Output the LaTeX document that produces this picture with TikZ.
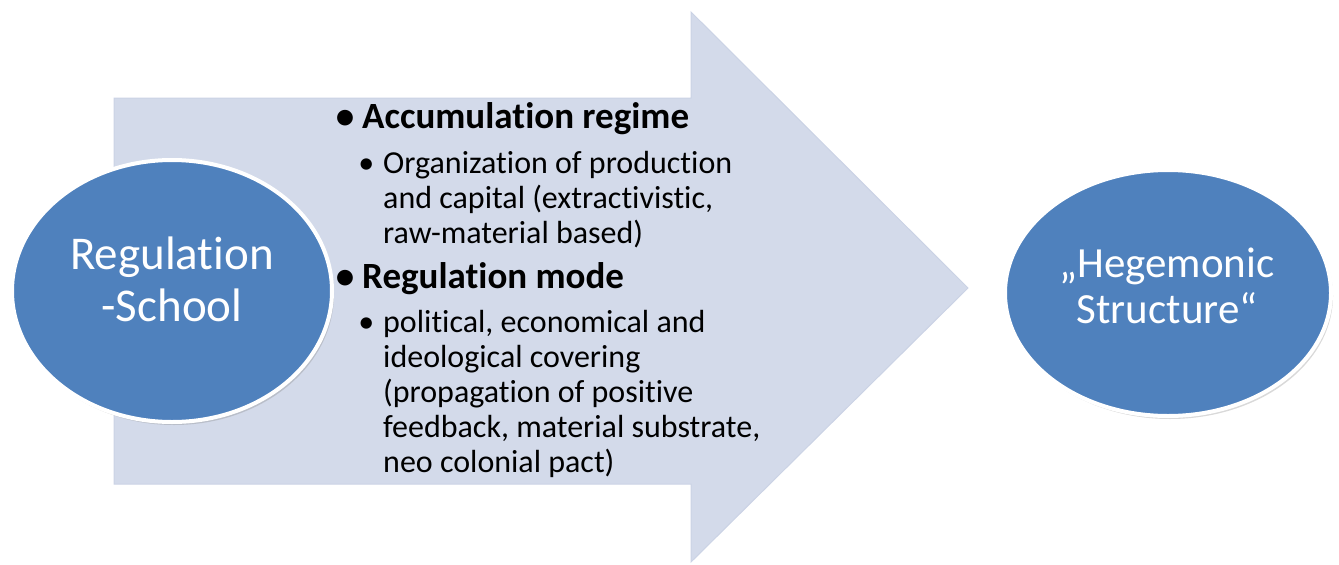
\documentclass[tikz,border=0pt]{standalone}
\usepackage{fontspec}
\setmainfont{Carlito}[Ligatures=NoCommon]
\usetikzlibrary{shadows,shapes.geometric}

\definecolor{arrowfill}{HTML}{D3DAEA}
\definecolor{arrowline}{HTML}{CBD3E5}
\definecolor{circfill}{HTML}{4F81BD}

\tikzset{
  bubble/.style={ellipse, fill=circfill, draw=white, line width=4pt,
    inner sep=0pt,
    drop shadow={opacity=0.3, shadow xshift=2pt, shadow yshift=-3pt}},
  bubbletext/.style={anchor=base, inner sep=0pt, text=white},
  headitem/.style={anchor=base west, inner sep=0pt, text=black,
    font=\fontsize{37}{44}\selectfont\bfseries},
  subitem/.style={anchor=base west, inner sep=0pt, text=black,
    font=\fontsize{32}{35}\selectfont},
}
\newcommand{\headbullet}{\llap{\textbullet\hspace{8pt}}}
\newcommand{\subbullet}{\llap{\textbullet\hspace{9pt}}}

\begin{document}
\begin{tikzpicture}[x=1pt,y=-1pt]
  \useasboundingbox (0,0) rectangle (1339,565);

  % big block arrow
  \path[fill=arrowfill, draw=arrowline, line width=1pt]
    (114,98) -- (691,98) -- (691,12) -- (968,288) -- (691,562)
    -- (691,484) -- (114,484) -- cycle;

  % end points
  \node[bubble, minimum width=320pt, minimum height=262pt] (school) at (172,291) {};
  \node[bubble, minimum width=326pt, minimum height=246pt] (hegemony) at (1168,293) {};

  \begin{scope}[font=\fontsize{47}{52}\selectfont]
    \node[bubbletext] (school1) at (172,269) {Regulation};
    \node[bubbletext] (school2) at (172,321) {-School};
  \end{scope}
  \begin{scope}[font=\fontsize{43}{46}\selectfont]
    \node[bubbletext] (heg1) at (1167,277) {„Hegemonic};
    \node[bubbletext] (heg2) at (1167,323) {Structure“};
  \end{scope}

  % bullet list
  \node[headitem] (accum) at (362,128) {\headbullet Accumulation regime};
  \node[subitem] (accum1) at (383,173) {\subbullet Organization of production};
  \node[subitem] (accum2) at (383,208) {and capital (extractivistic,};
  \node[subitem] (accum3) at (383,243) {raw-material based)};

  \node[headitem] (mode) at (362,288) {\headbullet Regulation mode};
  \node[subitem] (mode1) at (383,332) {\subbullet political, economical and};
  \node[subitem] (mode2) at (383,367) {ideological covering};
  \node[subitem] (mode3) at (383,402) {(propagation of positive};
  \node[subitem] (mode4) at (383,437) {feedback, material substrate,};
  \node[subitem] (mode5) at (383,472) {neo colonial pact)};
\end{tikzpicture}
\end{document}
